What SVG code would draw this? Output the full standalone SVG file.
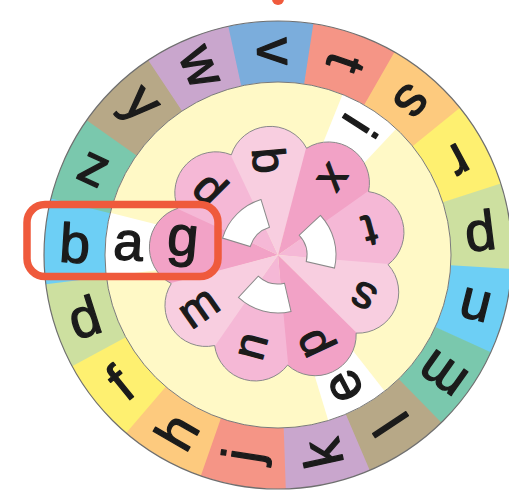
<svg xmlns="http://www.w3.org/2000/svg" xmlns:xlink="http://www.w3.org/1999/xlink" width="509" height="495" viewBox="0 0 509 495">
<style>
text{font-family:"Liberation Sans",Arial,sans-serif;fill:#1b1b1b;stroke:#1b1b1b;stroke-width:1.3;stroke-linejoin:round;text-anchor:middle}
.rl{font-size:55px}
.fl{font-size:46px}
.vl{font-size:54px}
.c0{fill:#7BADDC}.c1{fill:#F59586}.c2{fill:#FDCA7E}.c3{fill:#FEF070}.c4{fill:#CDE0A0}.c5{fill:#6DCFF5}.c6{fill:#7AC8AD}.c7{fill:#B7A887}.c8{fill:#C9A6CD}
.pd{fill:#F2A2C6}.pm{fill:#F5B8D6}.pl{fill:#F8CEE0}
.win{fill:#fff;stroke:#8a8a8a;stroke-width:1}
.vw{fill:#fff}
</style>
<defs>
<path id="seg" d="M-43.45 -229.93A234 234 0 0 1 43.45 -229.93L32.12 -169.99A173 173 0 0 0 -32.12 -169.99Z"/>
<path id="vwedge" d="M0 0L-31.82 -170.05A173 173 0 0 1 31.82 -170.05Z"/>
<path id="pwedge" d="M0 0L-48.57 -131.3A140 140 0 0 1 48.57 -131.3Z"/>
<path id="window" d="M-27.23 -51.21A58 58 0 0 1 27.23 -51.21L13.61 -25.61A29 29 0 0 0 -13.61 -25.61Z"/>
<clipPath id="flowerClip">
<circle cx="278" cy="255" r="100"/>
<circle cx="190.33" cy="247.33" r="41"/>
<circle cx="215.78" cy="192.78" r="41"/>
<circle cx="270.33" cy="167.33" r="41"/>
<circle cx="328.47" cy="182.91" r="41"/>
<circle cx="363.00" cy="232.22" r="41"/>
<circle cx="357.75" cy="292.19" r="41"/>
<circle cx="315.19" cy="334.75" r="41"/>
<circle cx="255.22" cy="340.00" r="41"/>
<circle cx="205.91" cy="305.47" r="41"/>
</clipPath>
</defs>

<g id="outer-ring">
<g id="seg-v" transform="translate(278 255) rotate(-1.79)"><use xlink:href="#seg" class="c0"/><text class="rl" transform="translate(0 -203.5) rotate(90)" y="14.3">v</text></g>
<g id="seg-t" transform="translate(278 255) rotate(19.39)"><use xlink:href="#seg" class="c1"/><text class="rl" transform="translate(0 -203.5) rotate(90)" y="18">t</text></g>
<g id="seg-s" transform="translate(278 255) rotate(40.56)"><use xlink:href="#seg" class="c2"/><text class="rl" transform="translate(0 -203.5) rotate(90)" y="14.3">s</text></g>
<g id="seg-r" transform="translate(278 255) rotate(61.74)"><use xlink:href="#seg" class="c3"/><text class="rl" transform="translate(0 -203.5) rotate(90)" y="14.3">r</text></g>
<g id="seg-p" transform="translate(278 255) rotate(82.92)"><use xlink:href="#seg" class="c4"/><text class="rl" transform="translate(0 -203.5) rotate(90)" y="8.5">p</text></g>
<g id="seg-n" transform="translate(278 255) rotate(104.09)"><use xlink:href="#seg" class="c5"/><text class="rl" transform="translate(0 -203.5) rotate(90)" y="14.3">n</text></g>
<g id="seg-m" transform="translate(278 255) rotate(125.27)"><use xlink:href="#seg" class="c6"/><text class="rl" transform="translate(0 -203.5) rotate(90)" y="14.3">m</text></g>
<g id="seg-l" transform="translate(278 255) rotate(146.44)"><use xlink:href="#seg" class="c7"/><text class="rl" transform="translate(0 -203.5) rotate(90)" y="19.8">l</text></g>
<g id="seg-k" transform="translate(278 255) rotate(167.62)"><use xlink:href="#seg" class="c8"/><text class="rl" transform="translate(0 -203.5) rotate(90)" y="19.8">k</text></g>
<g id="seg-j" transform="translate(278 255) rotate(188.8)"><use xlink:href="#seg" class="c1"/><text class="rl" transform="translate(0 -203.5) rotate(90)" y="13.9">j</text></g>
<g id="seg-h" transform="translate(278 255) rotate(209.97)"><use xlink:href="#seg" class="c2"/><text class="rl" transform="translate(0 -203.5) rotate(90)" y="19.8">h</text></g>
<g id="seg-f" transform="translate(278 255) rotate(231.15)"><use xlink:href="#seg" class="c3"/><text class="rl" transform="translate(0 -203.5) rotate(90)" y="19.8">f</text></g>
<g id="seg-d" transform="translate(278 255) rotate(252.33)"><use xlink:href="#seg" class="c4"/><text class="rl" transform="translate(0 -203.5) rotate(90)" y="19.8">d</text></g>
<g id="seg-b" transform="translate(278 255) rotate(273.5)"><use xlink:href="#seg" class="c5"/><text class="rl" transform="translate(0 -203.5) rotate(90)" y="19.8">b</text></g>
<g id="seg-z" transform="translate(278 255) rotate(294.68)"><use xlink:href="#seg" class="c6"/><text class="rl" transform="translate(0 -203.5) rotate(90)" y="14.3">z</text></g>
<g id="seg-y" transform="translate(278 255) rotate(315.85)"><use xlink:href="#seg" class="c7"/><text class="rl" transform="translate(0 -203.5) rotate(90)" y="8.5">y</text></g>
<g id="seg-w" transform="translate(278 255) rotate(337.03)"><use xlink:href="#seg" class="c8"/><text class="rl" transform="translate(0 -203.5) rotate(90)" y="14.3">w</text></g>
<circle cx="278" cy="255" r="234" fill="none" stroke="#6f6f6f" stroke-width="1.2"/>
</g>

<g id="inner-disc">
<circle cx="278" cy="255" r="173" fill="#FFF9C6"/>
<g id="vowel-a" transform="translate(278 255) rotate(273.5)"><use xlink:href="#vwedge" class="vw"/><text class="vl" transform="translate(0 -150) rotate(90)" y="14">a</text></g>
<g id="vowel-i" transform="translate(278 255) rotate(32.5)"><use xlink:href="#vwedge" class="vw"/><text class="vl" transform="translate(0 -153) rotate(90)" y="19.4">i</text></g>
<g id="vowel-e" transform="translate(278 255) rotate(152.5)"><use xlink:href="#vwedge" class="vw"/><text class="vl" transform="translate(0 -147) rotate(90)" y="14">e</text></g>
<circle cx="278" cy="255" r="173" fill="none" stroke="#7a7a7a" stroke-width="1"/>
</g>

<g id="flower">
<g clip-path="url(#flowerClip)">
<g id="petal-g" transform="translate(278 255) rotate(275)"><use xlink:href="#pwedge" class="pd"/><text style="font-size:56px" transform="translate(0 -96) rotate(90)" y="8.7">g</text></g>
<g id="petal-d" transform="translate(278 255) rotate(315)"><use xlink:href="#pwedge" class="pm"/><text class="fl" transform="translate(0 -95) rotate(90)" y="16.6">d</text></g>
<g id="petal-b" transform="translate(278 255) rotate(355)"><use xlink:href="#pwedge" class="pl"/><text class="fl" transform="translate(0 -95) rotate(90)" y="16.6">b</text></g>
<g id="petal-x" transform="translate(278 255) rotate(35)"><use xlink:href="#pwedge" class="pd"/><text class="fl" transform="translate(0 -95) rotate(90)" y="12">x</text></g>
<g id="petal-t" transform="translate(278 255) rotate(75)"><use xlink:href="#pwedge" class="pm"/><text class="fl" transform="translate(0 -95) rotate(90)" y="15.2">t</text></g>
<g id="petal-s" transform="translate(278 255) rotate(115)"><use xlink:href="#pwedge" class="pl"/><text class="fl" transform="translate(0 -95) rotate(90)" y="12">s</text></g>
<g id="petal-p" transform="translate(278 255) rotate(155)"><use xlink:href="#pwedge" class="pd"/><text class="fl" transform="translate(0 -95) rotate(90)" y="7.1">p</text></g>
<g id="petal-n" transform="translate(278 255) rotate(195)"><use xlink:href="#pwedge" class="pm"/><text class="fl" transform="translate(0 -95) rotate(90)" y="12">n</text></g>
<g id="petal-m" transform="translate(278 255) rotate(235)"><use xlink:href="#pwedge" class="pl"/><text class="fl" transform="translate(0 -95) rotate(90)" y="12">m</text></g>
</g>
<path d="M171.26 283.6A41 41 0 0 1 177.85 208.3A41 41 0 0 1 231.3 154.85A41 41 0 0 1 306.6 148.26A41 41 0 0 1 368.52 191.62A41 41 0 0 1 388.08 264.63A41 41 0 0 1 356.14 333.14A41 41 0 0 1 287.63 365.08A41 41 0 0 1 214.62 345.52A41 41 0 0 1 171.26 283.6Z" fill="none" stroke="#8a8a8a" stroke-width="1"/>
<g id="windows">
<use xlink:href="#window" class="win" transform="translate(278 255) rotate(315)"/>
<use xlink:href="#window" class="win" transform="translate(278 255) rotate(75)"/>
<use xlink:href="#window" class="win" transform="translate(278 255) rotate(195)"/>
</g>
</g>

<g id="highlight">
<rect x="27" y="204.5" width="191" height="72" rx="18" fill="none" stroke="#EF5A3C" stroke-width="7.5"/>
</g>
<g id="pointer">
<circle cx="278" cy="-1" r="6" fill="#F05A3C"/>
</g>
</svg>
